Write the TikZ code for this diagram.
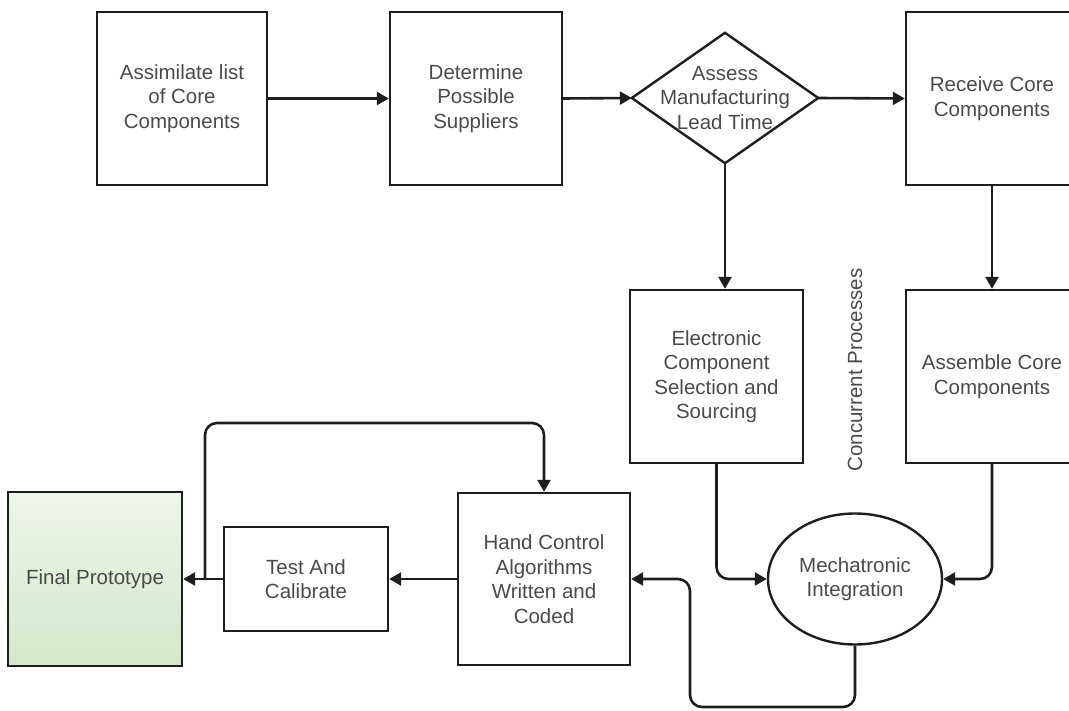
\documentclass[tikz,border=0pt]{standalone}
\usepackage{fontspec}
\setmainfont{Liberation Sans}
\usetikzlibrary{arrows.meta,shapes.geometric,calc}
\definecolor{linecol}{HTML}{1E1E1E}
\definecolor{txtcol}{HTML}{4A4A4A}
\definecolor{greentop}{HTML}{EEF5EA}
\definecolor{greenbot}{HTML}{D4E7CB}
\begin{document}
\begin{tikzpicture}[x=1pt,y=-1pt,
  every node/.style={font=\fontsize{20.5}{24.5}\selectfont, text=txtcol, align=center},
  stepbox/.style={draw=linecol, line width=2.4pt, rectangle, inner sep=0pt,
    minimum width=172pt, minimum height=173pt},
  flow/.style={draw=linecol, line width=2.6pt, -{Triangle[length=12pt,width=13pt]}},
  elbowflow/.style={flow, rounded corners=12pt}]
\useasboundingbox (0,0) rectangle (1069,711);
\clip (0,0) rectangle (1069,711);

% process boxes
\node[stepbox, minimum width=170pt] (b1) at (182,98.5) {Assimilate list\\of Core\\Components};
\node[stepbox] (b2) at (476,98.5) {Determine\\Possible\\Suppliers};
\node[stepbox] (rec) at (992,98.5) {Receive Core\\Components};
\node[stepbox, minimum width=173pt] (elec) at (716.5,376.5) {Electronic\\Component\\Selection and\\Sourcing};
\node[stepbox] (asm) at (992,376.5) {Assemble Core\\Components};
\node[stepbox, minimum height=172pt] (hand) at (544,579) {Hand Control\\Algorithms\\Written and\\Coded};
\node[stepbox, minimum width=164pt, minimum height=104pt] (test) at (306,579) {Test And\\Calibrate};
\node[stepbox, minimum width=174pt, minimum height=174pt,
  top color=greentop, bottom color=greenbot] (final) at (95,579) {Final Prototype};

% decision diamond
\node[inner sep=0pt, minimum width=186pt, minimum height=130pt] (dia) at (725,98) {};
\draw[linecol, line width=2.4pt, line join=miter]
  (dia.west) -- (dia.north) -- (dia.east) -- (dia.south) -- cycle;
\node at (725,98) {Assess\\Manufacturing\\Lead Time};

% integration ellipse
\node[draw=linecol, line width=2.4pt, ellipse, inner sep=0pt,
  minimum width=174pt, minimum height=131pt] (ell) at (855,579) {Mechatronic\\Integration};

% side label
\node[rotate=90] (conc) at (855,370) {Concurrent Processes};

% connectors
\coordinate (lp) at (690,707);
\coordinate (j) at (205,579);
\coordinate (lt) at (205,423);

\draw[flow] (b1.east) -- (b2.west);
\draw[flow] (b2.east) -- (dia.west);
\draw[flow] (dia.east) -- (rec.west);
\draw[flow] (dia.south) -- (dia.south |- elec.north);
\draw[flow] (rec.south) -- (asm.north);
\draw[elbowflow] (elec.south) |- (ell.west);
\draw[elbowflow] (asm.south) |- (ell.east);
\draw[elbowflow] (ell.south) |- (lp) |- (hand.east);
\draw[flow] (hand.west) -- (test.east);
\draw[flow] (test.west) -- (final.east);
\draw[elbowflow] (j) -- (lt) -| (hand.north);
\end{tikzpicture}
\end{document}
